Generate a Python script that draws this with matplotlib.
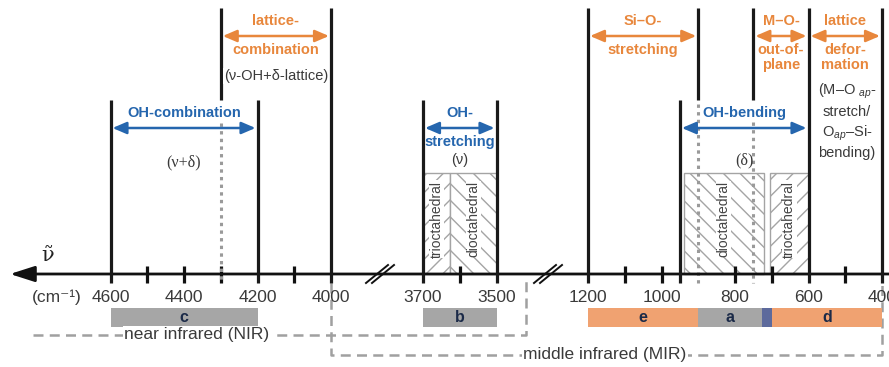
import matplotlib.pyplot as plt
from matplotlib.patches import Rectangle

plt.rcParams['font.family'] = ['Liberation Sans', 'DejaVu Sans']
plt.rcParams['mathtext.fontset'] = 'custom'
plt.rcParams['mathtext.rm'] = 'Liberation Sans'
plt.rcParams['mathtext.it'] = 'Liberation Sans:italic'
plt.rcParams['hatch.linewidth'] = 1.0
plt.rcParams['hatch.color'] = '#a4a4a4'

ORANGE = '#E8873C'
BLUE = '#2566AE'
GRAY_TXT = '#3a3a3a'

# broken wavenumber axis: (first wavenumber of piece, x of that wavenumber)
segments = [(4600, 110.5), (3700, 423.0), (1200, 588.0)]
px_per_wn = 0.3675

def xpos(wn):
    if wn > 3800:
        start, x0 = segments[0]
    elif wn > 2000:
        start, x0 = segments[1]
    else:
        start, x0 = segments[2]
    return x0 + (start - wn) * px_per_wn

# tick values (cm-1)
tick_labels = [4600, 4400, 4200, 4000, 3700, 3500, 1200, 1000, 800, 600, 400]
minor_ticks = [4500, 4400, 4300, 4100, 3600, 1100, 1000, 800, 700, 500]

# band limits
lines_tall = [4000, 1200, 600, 400]          # top row down to axis
lines_mid = [4600, 4200, 3700, 3500, 950]    # second row down to axis
lines_upper = [4300, 900, 750]               # top row, stop at second row
dotted_lines = [4300, 900, 750]

# upper bands (orange)
upper_bands = [
    (4300, 4000, 'lattice-', 'combination'),
    (1200, 900, 'Si\u2013O-', 'stretching'),
    (750, 600, 'M\u2013O-', 'out-of-\nplane'),
    (600, 400, 'lattice', 'defor-\nmation'),
]
# lower bands (blue)
lower_bands = [
    (4600, 4200, 'OH-combination', ''),
    (3700, 3500, 'OH-', 'stretching'),
    (950, 600, 'OH-bending', ''),
]

# vibration assignments: (text, wavenumber, y, family)
assignments = [
    ('(\u03bd-OH+\u03b4-lattice)', 4150, 76, 'sans'),
    ('(\u03bd+\u03b4)', 4400, 162, 'serif'),
    ('(\u03bd)', 3600, 160, 'sans'),
    ('(\u03b4)', 773, 160, 'serif'),
    ('(M\u2013O $_{ap}$-\nstretch/\nO$_{ap}$\u2013Si-\nbending)', 495, 121, 'sans'),
]

# octahedral sheet regions: (from, to, hatch, label)
octa = [
    (3700, 3627, '//', 'trioctahedral'),
    (3627, 3500, '\\\\', 'dioctahedral'),
    (940, 722, '\\\\', 'dioctahedral'),
    (705, 600, '//', 'trioctahedral'),
]

# lettered ranges below the axis
bars = [
    (4600, 4200, '#a6a6a6', 'c'),
    (3700, 3500, '#a6a6a6', 'b'),
    (1200, 900, '#F0A271', 'e'),
    (900, 726, '#a6a6a6', 'a'),
    (726, 700, '#5d6a9c', ''),
    (700, 400, '#F0A271', 'd'),
]

nir_range = (4810, 3420)
mir_range = (4000, 400)

fig = plt.figure(figsize=(8.89, 3.67), dpi=100)
ax = fig.add_axes([0, 0, 1, 1])
ax.set_xlim(0, 889)
ax.set_ylim(367, 0)
ax.axis('off')

y_axis = 274
y_top, y_mid = 8, 100
lw_bar = 2.3

# axis with arrow
ax.annotate('', xy=(10, y_axis), xytext=(889, y_axis),
            arrowprops=dict(arrowstyle='-|>,head_length=1.0,head_width=0.32',
                            lw=2.0, color='#111111', mutation_scale=15,
                            shrinkA=0, shrinkB=0))
serif = ['Liberation Serif', 'DejaVu Serif']
ax.text(48, 256, r'$\tilde{\mathrm{\nu}}$', fontsize=15, ha='center',
        va='center', math_fontfamily='dejavuserif', color='#222222')

# axis breaks
for xb in [380, 548]:
    for dx in [-3, 3]:
        ax.plot([xb + dx - 11, xb + dx + 11], [y_axis + 9, y_axis - 9],
                color='#111111', lw=1.4)

for wn in minor_ticks:
    ax.plot([xpos(wn)] * 2, [y_axis - 8, y_axis + 9], color='#111111', lw=lw_bar,
            solid_capstyle='butt')

for wn in tick_labels:
    ax.text(xpos(wn), 297, str(wn), fontsize=12.5, ha='center', va='center',
            color=GRAY_TXT)
ax.text(57, 297, '(cm\u207b\u00b9)', fontsize=12.5, ha='center', va='center',
        color=GRAY_TXT)

# hatched octahedral regions
for a, b, h, lab in octa:
    x1, x2 = xpos(a), xpos(b)
    ax.add_patch(Rectangle((x1, 173), x2 - x1, y_axis - 173, facecolor='white',
                           edgecolor='#a4a4a4', hatch=h, lw=1.0, zorder=1))
    ax.text((x1 + x2) / 2, 219, lab, rotation=90, fontsize=10, ha='center',
            va='center', color='#444444', zorder=2,
            bbox=dict(fc='white', ec='none', pad=0.3))

# dotted guides
tops = {4300: 123, 900: 104, 750: 122}
for wn in dotted_lines:
    ax.plot([xpos(wn)] * 2, [tops[wn], y_axis + 9], color='#9a9a9a', lw=2.2,
            dashes=(1.1, 1.4), zorder=2)

# band limit lines
for wn in lines_tall:
    ax.plot([xpos(wn)] * 2, [y_top, y_axis + 9], color='#1a1a1a', lw=lw_bar,
            solid_capstyle='butt', zorder=3)
for wn in lines_mid:
    ax.plot([xpos(wn)] * 2, [y_mid, y_axis + 9], color='#1a1a1a', lw=lw_bar,
            solid_capstyle='butt', zorder=3)
for wn in lines_upper:
    ax.plot([xpos(wn)] * 2, [y_top, y_mid], color='#1a1a1a', lw=lw_bar,
            solid_capstyle='butt', zorder=3)

def band(a, b, above, below, y, color):
    x1, x2 = xpos(a) + 2, xpos(b) - 2
    ax.annotate('', xy=(x2, y), xytext=(x1, y),
                arrowprops=dict(arrowstyle='<|-|>,head_length=0.7,head_width=0.3',
                                lw=1.8, color=color, mutation_scale=12,
                                shrinkA=0, shrinkB=0))
    xc = (x1 + x2) / 2
    ax.text(xc, y - 15, above, fontsize=10.5, fontweight='bold', color=color,
            ha='center', va='center')
    if below:
        ax.text(xc, y + 7, below, fontsize=10.5, fontweight='bold', color=color,
                ha='center', va='top', linespacing=1.05)

for a, b, above, below in upper_bands:
    band(a, b, above, below, 36, ORANGE)
for a, b, above, below in lower_bands:
    band(a, b, above, below, 128, BLUE)

for txt, wn, y, fam in assignments:
    family = serif if fam == 'serif' else None
    ax.text(xpos(wn), y, txt, fontsize=11.5 if fam == 'serif' else 10.5,
            ha='center', va='center', color=GRAY_TXT, linespacing=1.35,
            family=family,
            bbox=dict(fc='white', ec='none', pad=0.5) if wn == 4150 else None,
            zorder=4)

# lettered ranges
for a, b, col, lab in bars:
    x1, x2 = xpos(a), xpos(b)
    ax.add_patch(Rectangle((x1, 308), x2 - x1, 19, facecolor=col, edgecolor='none'))
    if lab:
        ax.text((x1 + x2) / 2, 318, lab, fontsize=11.5, fontweight='bold',
                color='#1b2a48', ha='center', va='center')

# NIR / MIR outlines
dash_kw = dict(color='#a0a0a0', lw=1.8, dashes=(4, 2.5), zorder=0)
xn1, xn2 = xpos(nir_range[0]), xpos(nir_range[1])
ax.plot([xn1, xn2, xn2], [335, 335, 281], **dash_kw)
xm1, xm2 = xpos(mir_range[0]), xpos(mir_range[1])
ax.plot([xm1, xm1, xm2, xm2], [283, 355, 355, 283], **dash_kw)
ax.text(xpos(4365), 335, 'near infrared (NIR)', fontsize=12.5, ha='center',
        va='center', color=GRAY_TXT, bbox=dict(fc='white', ec='none', pad=1))
ax.text(xpos(1155), 355, 'middle infrared (MIR)', fontsize=12.5, ha='center',
        va='center', color=GRAY_TXT, bbox=dict(fc='white', ec='none', pad=1))

fig.savefig('out.png', dpi=100)
